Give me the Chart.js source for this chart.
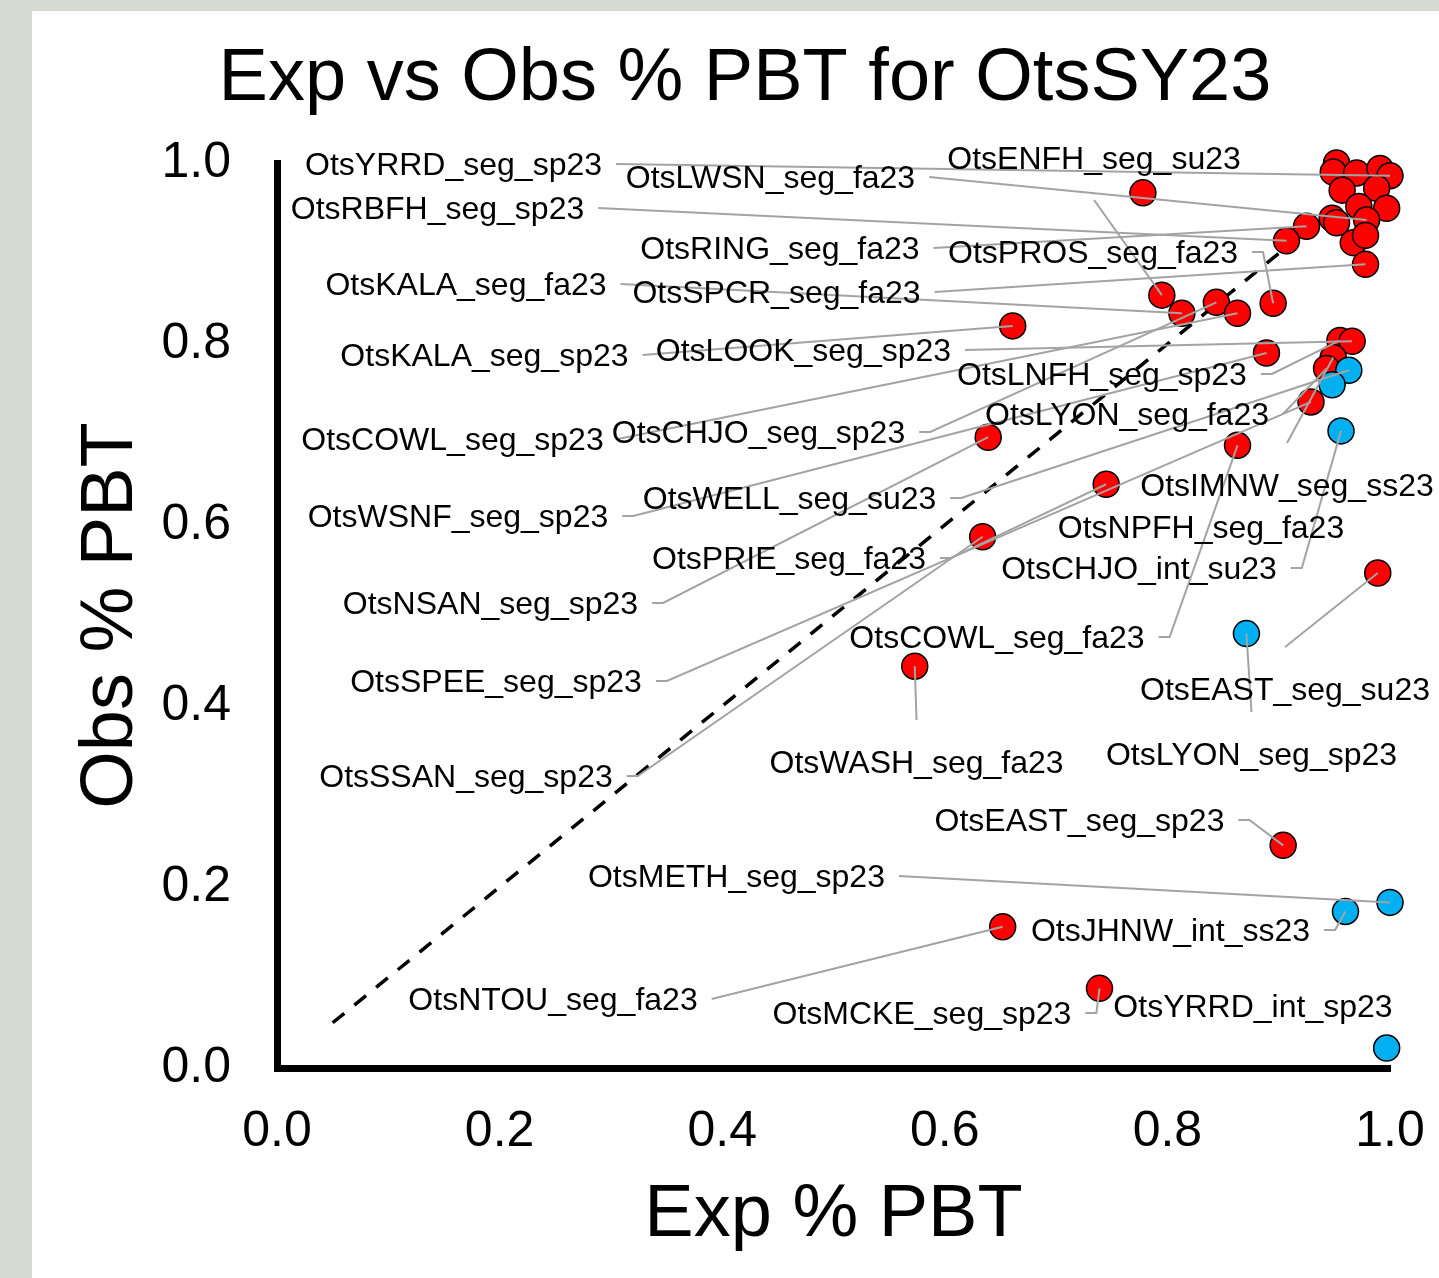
<!DOCTYPE html>
<html>
<head>
<meta charset="utf-8">
<script src="https://cdn.jsdelivr.net/npm/chart.js@4.4.1/dist/chart.umd.min.js"></script>
<style>
  html, body { margin: 0; padding: 0; background: #d6dbd2; }
  #wrap { position: absolute; left: 0; top: 0; width: 1439px; height: 1278px; }
</style>
</head>
<body>
<div id="wrap"><canvas id="c" width="1439" height="1278"></canvas></div>
<script>
// ---------------- DATA ----------------
const chartTitle = 'Exp vs Obs % PBT for OtsSY23';
const xTitle = 'Exp % PBT';
const yTitle = 'Obs % PBT';
const tickValues = [0, 0.2, 0.4, 0.6, 0.8, 1.0];

// site names ('' = unlabeled point)
const siteNames = [
  '', '', '', '', 'OtsYRRD_seg_sp23',
  '', '', '', '', '', '', 'OtsLWSN_seg_fa23',
  'OtsRING_seg_fa23', 'OtsRBFH_seg_sp23', '', '', 'OtsSPCR_seg_fa23',
  '', 'OtsENFH_seg_su23', 'OtsKALA_seg_fa23', 'OtsCHJO_seg_sp23', 'OtsCOWL_seg_sp23', 'OtsPROS_seg_fa23',
  'OtsKALA_seg_sp23', 'OtsLNFH_seg_sp23', 'OtsLOOK_seg_sp23', 'OtsWSNF_seg_sp23', 'OtsIMNW_seg_ss23',
  'OtsLYON_seg_fa23', 'OtsWELL_seg_su23', 'OtsNPFH_seg_fa23', 'OtsSPEE_seg_sp23', 'OtsCHJO_int_su23',
  'OtsCOWL_seg_fa23', 'OtsNSAN_seg_sp23', 'OtsPRIE_seg_fa23', 'OtsSSAN_seg_sp23', 'OtsEAST_seg_su23',
  'OtsLYON_seg_sp23', 'OtsWASH_seg_fa23', 'OtsEAST_seg_sp23', 'OtsJHNW_int_ss23', 'OtsMETH_seg_sp23',
  'OtsNTOU_seg_fa23', 'OtsMCKE_seg_sp23', 'OtsYRRD_int_sp23'
];
const expPBT = [
  0.952, 0.949, 0.970, 0.991, 1.000,
  0.957, 0.988, 0.972, 0.997, 0.948, 0.952, 0.979,
  0.925, 0.907, 0.967, 0.978, 0.978,
  0.778, 0.795, 0.813, 0.844, 0.863, 0.895,
  0.661, 0.955, 0.966, 0.889, 0.949,
  0.943, 0.963, 0.948, 0.929, 0.956,
  0.863, 0.639, 0.745, 0.634, 0.989,
  0.871, 0.573, 0.904, 0.960, 1.000,
  0.652, 0.739, 0.997
];
const obsPBT = [
  1.000, 0.990, 0.989, 0.994, 0.986,
  0.970, 0.972, 0.952, 0.950, 0.939, 0.934, 0.937,
  0.930, 0.914, 0.912, 0.920, 0.888,
  0.967, 0.854, 0.834, 0.846, 0.834, 0.845,
  0.820, 0.804, 0.803, 0.790, 0.785,
  0.773, 0.771, 0.755, 0.736, 0.704,
  0.688, 0.697, 0.645, 0.587, 0.547,
  0.480, 0.444, 0.246, 0.173, 0.183,
  0.156, 0.088, 0.022
];
// marker group: 'A' = red, 'B' = blue
const markerGroup = [
  'A','A','A','A','A',
  'A','A','A','A','A','A','A',
  'A','A','A','A','A',
  'A','A','A','A','A','A',
  'A','A','A','A','A',
  'A','B','B','A','B',
  'A','A','A','A','A',
  'B','A','A','B','B',
  'A','A','B'
];
// 1:1 reference segment (exp = obs)
const parityRange = [0.05, 0.92];

// ---------------- LABEL LAYOUT (repelled label placement, data units) ----------------
const labelLayout = [
  { site: 'OtsYRRD_seg_sp23', lx: 0.1586, ly: 0.9989, side: 'r', elbow: false },
  { site: 'OtsLWSN_seg_fa23', lx: 0.4434, ly: 0.9845, side: 'r', elbow: false },
  { site: 'OtsENFH_seg_su23', lx: 0.7341, ly: 1.0055, side: 'b', elbow: false },
  { site: 'OtsRBFH_seg_sp23', lx: 0.1442, ly: 0.9503, side: 'r', elbow: false },
  { site: 'OtsRING_seg_fa23', lx: 0.4519, ly: 0.9061, side: 'r', elbow: false },
  { site: 'OtsPROS_seg_fa23', lx: 0.7332, ly: 0.9017, side: 'r', elbow: true },
  { site: 'OtsKALA_seg_fa23', lx: 0.1698, ly: 0.8663, side: 'r', elbow: false },
  { site: 'OtsSPCR_seg_fa23', lx: 0.4488, ly: 0.8575, side: 'r', elbow: false },
  { site: 'OtsKALA_seg_sp23', lx: 0.1864, ly: 0.7878, side: 'r', elbow: false },
  { site: 'OtsLOOK_seg_sp23', lx: 0.4730, ly: 0.7934, side: 'r', elbow: false },
  { site: 'OtsLNFH_seg_sp23', lx: 0.7412, ly: 0.7669, side: 'r', elbow: true },
  { site: 'OtsCOWL_seg_sp23', lx: 0.1577, ly: 0.6950, side: 'r', elbow: false },
  { site: 'OtsCHJO_seg_sp23', lx: 0.4326, ly: 0.7028, side: 'r', elbow: true },
  { site: 'OtsLYON_seg_fa23', lx: 0.7637, ly: 0.7227, side: 'r', elbow: false },
  { site: 'OtsIMNW_seg_ss23', lx: 0.9075, ly: 0.6442, side: 't', elbow: false },
  { site: 'OtsWSNF_seg_sp23', lx: 0.1626, ly: 0.6099, side: 'r', elbow: true },
  { site: 'OtsWELL_seg_su23', lx: 0.4605, ly: 0.6298, side: 'r', elbow: true },
  { site: 'OtsNPFH_seg_fa23', lx: 0.8302, ly: 0.5978, side: 'none', elbow: false },
  { site: 'OtsPRIE_seg_fa23', lx: 0.4600, ly: 0.5635, side: 'r', elbow: true },
  { site: 'OtsCHJO_int_su23', lx: 0.7745, ly: 0.5525, side: 'r', elbow: true },
  { site: 'OtsNSAN_seg_sp23', lx: 0.1918, ly: 0.5138, side: 'r', elbow: true },
  { site: 'OtsCOWL_seg_fa23', lx: 0.6469, ly: 0.4762, side: 'r', elbow: true },
  { site: 'OtsEAST_seg_su23', lx: 0.9057, ly: 0.4188, side: 't', elbow: false },
  { site: 'OtsSPEE_seg_sp23', lx: 0.1968, ly: 0.4276, side: 'r', elbow: true },
  { site: 'OtsWASH_seg_fa23', lx: 0.5746, ly: 0.3381, side: 't', elbow: false },
  { site: 'OtsLYON_seg_sp23', lx: 0.8756, ly: 0.3470, side: 't', elbow: false },
  { site: 'OtsSSAN_seg_sp23', lx: 0.1698, ly: 0.3227, side: 'r', elbow: true },
  { site: 'OtsEAST_seg_sp23', lx: 0.7210, ly: 0.2740, side: 'r', elbow: true },
  { site: 'OtsMETH_seg_sp23', lx: 0.4128, ly: 0.2122, side: 'r', elbow: false },
  { site: 'OtsJHNW_int_ss23', lx: 0.8028, ly: 0.1525, side: 'r', elbow: true },
  { site: 'OtsNTOU_seg_fa23', lx: 0.2480, ly: 0.0762, side: 'r', elbow: false },
  { site: 'OtsMCKE_seg_sp23', lx: 0.5795, ly: 0.0608, side: 'r', elbow: true },
  { site: 'OtsYRRD_int_sp23', lx: 0.8769, ly: 0.0685, side: 'none', elbow: false }
];

// ---------------- BUILD ----------------
const FONT = '"Liberation Sans", Arial, Helvetica, sans-serif';
Chart.defaults.font.family = FONT;
Chart.defaults.color = '#000';

function pointsOf(g) {
  const out = [];
  for (let i = 0; i < expPBT.length; i++) {
    if (markerGroup[i] === g) out.push({ x: expPBT[i], y: obsPBT[i], site: siteNames[i] });
  }
  return out;
}

const backgroundPlugin = {
  id: 'bg',
  beforeDraw(chart) {
    const ctx = chart.ctx;
    ctx.save();
    ctx.fillStyle = '#d6dbd2';
    ctx.fillRect(0, 0, chart.width, chart.height);
    ctx.fillStyle = '#ffffff';
    ctx.fillRect(32, 11, chart.width - 32, chart.height - 11);
    ctx.restore();
  },
  afterDraw(chart) {
    const ctx = chart.ctx;
    ctx.save();
    ctx.fillStyle = '#000';
    ctx.font = '74px ' + FONT;
    ctx.textAlign = 'center';
    ctx.textBaseline = 'alphabetic';
    ctx.fillText(chartTitle, 745, 100);
    ctx.restore();
  }
};

const labelPlugin = {
  id: 'repelLabels',
  afterDatasetsDraw(chart) {
    const ctx = chart.ctx;
    const xs = chart.scales.x, ys = chart.scales.y;
    ctx.save();
    ctx.font = '32px ' + FONT;
    ctx.strokeStyle = '#a3a3a3';
    ctx.lineWidth = 2;
    ctx.lineCap = 'butt';
    const placed = labelLayout.map(l => {
      const i = siteNames.indexOf(l.site);
      return {
        l,
        px: xs.getPixelForValue(expPBT[i]),
        py: ys.getPixelForValue(obsPBT[i]),
        cx: xs.getPixelForValue(l.lx),
        cy: ys.getPixelForValue(l.ly),
        w: ctx.measureText(l.site).width
      };
    });
    placed.forEach(p => {
      if (p.l.side === 'none') return;
      let sx, sy;
      ctx.beginPath();
      if (p.l.side === 'r') {
        sx = p.cx + p.w / 2 + 14; sy = p.cy;
        ctx.moveTo(sx, sy);
        if (p.l.elbow) { sx += 11; ctx.lineTo(sx, sy); }
      } else if (p.l.side === 't') {
        sx = p.cx; sy = p.cy - 42; ctx.moveTo(sx, sy);
      } else {
        sx = p.cx; sy = p.cy + 42; ctx.moveTo(sx, sy);
      }
      ctx.lineTo(p.px, p.py);
      ctx.stroke();
    });
    ctx.fillStyle = '#000';
    ctx.textAlign = 'center';
    ctx.textBaseline = 'middle';
    placed.forEach(p => ctx.fillText(p.l.site, p.cx, p.cy + 2));
    ctx.restore();
  }
};

const tickFmt = v => Number(v).toFixed(1);

new Chart(document.getElementById('c'), {
  type: 'scatter',
  data: {
    datasets: [
      {
        label: 'blue',
        data: pointsOf('B'),
        backgroundColor: '#00b0f0',
        borderColor: '#000',
        borderWidth: 1.5,
        pointRadius: 13,
        clip: false,
        order: 0
      },
      {
        label: 'red',
        data: pointsOf('A'),
        backgroundColor: '#ff0000',
        borderColor: '#000',
        borderWidth: 1.5,
        pointRadius: 13,
        clip: false,
        order: 1
      },
      {
        label: 'parity',
        data: parityRange.map(v => ({ x: v, y: v })),
        showLine: true,
        borderColor: '#000',
        borderWidth: 3.5,
        borderDash: [15, 13],
        pointRadius: 0,
        fill: false,
        clip: false,
        order: 2
      }
    ]
  },
  options: {
    responsive: false,
    animation: false,
    devicePixelRatio: 1,
    layout: { padding: { top: 163, right: 49, bottom: 0, left: 0 } },
    plugins: { legend: { display: false }, tooltip: { enabled: false }, title: { display: false } },
    scales: {
      x: {
        type: 'linear',
        min: 0, max: 1,
        afterFit(s) { s.height = 210; s.paddingLeft = 0; s.paddingRight = 0; },
        afterBuildTicks(s) { s.ticks = tickValues.map(v => ({ value: v })); },
        grid: { display: false, drawTicks: false },
        border: { display: true, color: '#000', width: 7 },
        ticks: { font: { size: 50 }, color: '#000', padding: 34, autoSkip: false, maxRotation: 0, callback: tickFmt },
        title: { display: true, text: xTitle, font: { size: 74 }, color: '#000', padding: { top: 0, bottom: 18 } }
      },
      y: {
        type: 'linear',
        min: 0, max: 1,
        afterFit(s) { s.width = 277; s.paddingTop = 0; s.paddingBottom = 0; },
        afterBuildTicks(s) { s.ticks = tickValues.map(v => ({ value: v })); },
        grid: { display: false, drawTicks: false },
        border: { display: true, color: '#000', width: 7 },
        ticks: { font: { size: 50 }, color: '#000', padding: 46, autoSkip: false, callback: tickFmt },
        title: { display: true, text: yTitle, font: { size: 74 }, color: '#000', padding: { top: 67, bottom: 0 } }
      }
    }
  },
  plugins: [backgroundPlugin, labelPlugin]
});
</script>
</body>
</html>
